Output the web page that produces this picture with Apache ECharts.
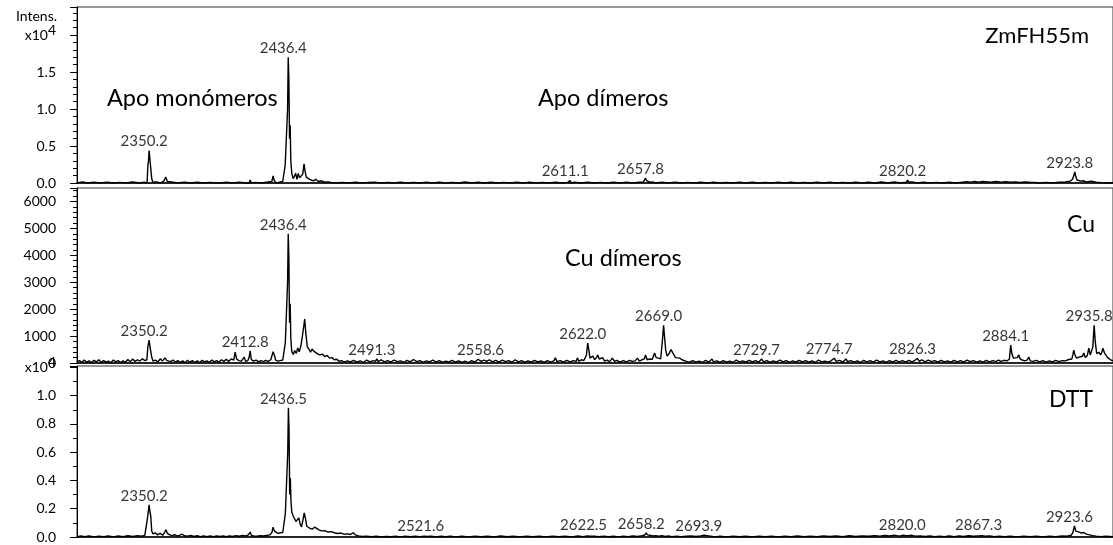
<!DOCTYPE html>
<html>
<head>
<meta charset="utf-8">
<title>MALDI spectra ZmFH55m / Cu / DTT</title>
<script src="https://cdn.jsdelivr.net/npm/echarts@6/dist/echarts.min.js"></script>
<style>
  html, body { margin: 0; padding: 0; background: #fff; }
  #chart { width: 1113px; height: 545px; }
</style>
</head>
<body>
<div id="chart"></div>
<script>
// m/z range shared by the three stacked spectra
const mzRange = [2305.5, 2947.5];

// Spectrum 1: apo protein (ZmFH55m), [m/z, intensity]
const zmSpectrum = [
  [2305.5,0],[2309,150],[2312,0],[2316,100],[2320,0],[2324,120],[2328,0],[2332,90],[2336,0],[2340,130],[2344,0],[2347,100],[2348.6,0],
  [2349.0,300],[2349.4,2300],[2349.8,3000],[2350.2,4400],[2350.6,3400],[2351.2,3200],[2351.8,600],[2352.5,100],[2353.5,0],
  [2355,150],[2357,0],[2359.5,300],[2360.5,800],[2361.5,200],[2362.5,0],[2365,100],[2368,0],[2372,120],[2376,0],[2380,100],[2384,0],
  [2388,90],[2392,0],[2393,250],[2394,0],[2398,100],[2402,0],[2406,120],[2410,0],[2412.3,0],[2412.8,400],[2413.5,0],[2416,80],[2420,0],
  [2423,100],[2426.2,200],[2427,950],[2427.8,300],[2429,0],[2431,100],[2433,200],[2434.2,300],[2434.5,2400],[2435.6,2450],
  [2436.0,10000],[2436.4,17000],[2436.8,14000],[2437.2,6000],[2437.6,7800],[2438.0,3000],[2438.6,1300],[2439.4,600],[2440.2,900],
  [2441,1300],[2441.8,500],[2442.6,1300],[2443.4,700],[2444.4,800],[2445.4,1200],[2446.2,2600],[2446.9,1500],[2447.6,800],
  [2448.6,1000],[2449.6,500],[2450.6,700],[2452,300],[2453.5,500],[2455,200],[2457,300],[2459,100],[2461,150],[2463,80],[2466,0],
  [2470,80],[2474,0],[2478,100],[2482,0],[2486,60],[2490,120],[2494,0],[2498,90],[2502,0],[2506,110],[2510,0],[2514,80],[2518,0],
  [2522,120],[2526,0],[2530,100],[2534,0],[2538,90],[2542,0],[2546,130],[2550,0],[2554,100],[2558,0],[2562,110],[2566,0],[2570,90],
  [2574,0],[2578,120],[2582,0],[2586,100],[2590,0],[2594,80],[2598,0],[2602,110],[2606,0],[2609.5,80],[2610.4,0],[2611.1,320],
  [2611.8,0],[2614,100],[2618,0],[2622,120],[2626,0],[2630,90],[2634,0],[2638,100],[2642,0],[2646,120],[2650,0],[2654,100],
  [2656.5,150],[2657.8,650],[2658.6,300],[2659.6,350],[2660.6,100],[2662,150],[2664,0],[2668,100],[2672,0],[2676,120],[2680,0],
  [2684,90],[2688,0],[2692,110],[2696,0],[2700,100],[2704,0],[2708,80],[2712,0],[2716,120],[2720,0],[2724,100],[2728,0],[2732,90],
  [2736,0],[2740,110],[2744,0],[2748,100],[2752,0],[2756,80],[2760,0],[2764,120],[2768,0],[2772,100],[2776,0],[2780,90],[2784,0],
  [2788,110],[2792,0],[2796,100],[2800,0],[2804,130],[2808,0],[2812,150],[2816,0],[2819.4,100],[2820.2,380],[2821,100],[2823,150],
  [2826,0],[2830,100],[2834,0],[2838,80],[2842,0],[2846,100],[2850,0],[2854,100],[2857,180],[2859,120],[2862,220],[2864,100],
  [2867,200],[2870,150],[2872,100],[2875,200],[2878,120],[2881,180],[2884,100],[2887,150],[2890,80],[2893,150],[2896,100],
  [2899,80],[2902,0],[2906,80],[2910,0],[2914,100],[2918,150],[2921,250],[2922.4,500],[2923.2,1000],[2923.8,1500],[2924.4,900],
  [2925.2,400],[2926.4,300],[2927.6,250],[2929,300],[2931,150],[2934,250],[2937,100],[2940,50],[2944,0],[2947.5,0]
];

// Spectrum 2: Cu-treated sample
const cuSpectrum = [
  [2305.5,40],[2307,90],[2308.5,20],[2310,110],[2311.5,30],[2313,80],[2314.5,10],[2316,100],[2317.5,40],[2319,120],[2320.5,20],
  [2322,90],[2323.5,30],[2325,70],[2326.5,10],[2328,110],[2329.5,40],[2331,90],[2332.5,20],[2334,80],[2335.5,30],[2337,130],
  [2338.5,50],[2340,150],[2341.5,60],[2343,120],[2344.5,70],[2346,160],[2347.5,90],[2348.8,120],
  [2349.4,600],[2350.2,850],[2350.7,620],[2351.2,560],[2351.8,220],[2352.6,70],[2354,110],[2355.5,40],[2357.2,160],[2358.4,70],
  [2360,190],[2361.2,90],[2362.4,150],[2363.6,50],[2365,110],[2366.5,30],[2368,90],[2369.5,20],[2371,80],[2372.5,10],[2374,100],
  [2375.5,30],[2377,90],[2378.5,20],[2380,80],[2381.5,10],[2383,100],[2384.5,40],[2386,80],[2387.5,20],[2389,110],[2390.5,40],
  [2392,90],[2393.5,30],[2395,120],[2396.5,60],[2398,140],[2399.5,60],[2401,150],[2402.6,110],[2403.5,400],[2404.4,150],
  [2405.8,90],[2407.4,70],[2408.4,120],[2409.1,220],[2410,60],[2411.4,90],[2412.2,220],[2412.8,450],[2413.5,130],[2414.8,70],
  [2416.5,110],[2418,40],[2419.5,90],[2421,50],[2422.5,100],[2424,60],[2425.6,120],[2426.4,170],[2427,420],[2427.8,300],
  [2428.6,110],[2430,70],[2431.5,90],[2433,110],[2434.2,150],[2434.6,760],[2435.6,760],
  [2436.0,3000],[2436.4,4800],[2436.8,3900],[2437.2,1500],[2437.6,2200],[2438.0,900],[2438.6,420],[2439.5,320],[2440.4,460],
  [2441.4,360],[2442.3,560],[2443.2,420],[2444.2,620],[2445.0,920],[2445.8,880],[2446.6,1630],[2447.3,1100],[2448.2,600],
  [2449.2,520],[2450.2,400],[2451.2,520],[2452.2,440],[2453.4,380],[2454.6,340],[2456,300],[2457.5,330],[2459,240],[2460.5,280],
  [2462,180],[2463.5,200],[2465,120],[2466.5,140],[2468,60],[2469.5,90],
  [2471,30],[2473,80],[2475,40],[2477,100],[2479,30],[2481,80],[2483,20],[2485,110],[2487,40],[2489,90],[2490.5,60],[2491.3,160],
  [2492.2,50],[2494,120],[2496,40],[2498,90],[2500,30],[2502,110],[2504,50],[2506,80],[2508,20],[2510,100],[2512,40],[2514,130],
  [2516,50],[2518,90],[2520,20],[2522,80],[2524,40],[2526,110],[2528,30],[2530,90],[2532,20],[2534,70],[2536,40],[2538,100],
  [2540,30],[2542,80],[2544,20],[2546,70],[2548,10],[2550,90],[2552,30],[2554,140],[2556,60],[2557.8,110],[2558.6,150],
  [2559.4,60],[2561,120],[2563,40],[2565,100],[2567,30],[2569,110],[2571,50],[2573,90],[2575,30],[2577,120],[2579,40],[2581,90],
  [2583,20],[2585,80],[2587,30],[2589,100],[2591,40],[2593,80],[2595,20],[2597,90],[2599,30],[2601,80],[2601.9,190],[2603,50],
  [2605,90],[2607,30],[2609,100],[2611,40],[2613,90],[2614.8,60],[2615.6,190],[2616.5,60],[2618,120],[2619.6,90],[2620.6,150],
  [2621.2,300],[2622.0,740],[2622.6,520],[2623.4,180],[2624.4,150],[2625.2,260],[2626.2,120],[2627.4,200],[2628.2,300],
  [2629.2,140],[2630.4,120],[2631.2,200],[2632.4,70],[2634,110],[2635.6,50],[2637.3,180],[2638.6,60],[2640,100],[2642,30],
  [2644,90],[2646,40],[2648,100],[2649.6,60],[2651.4,80],[2652.8,180],[2654,70],[2655.6,120],[2657,150],[2657.8,300],
  [2658.8,120],[2660.4,150],[2662,140],[2663.4,370],[2664.4,200],[2665.8,180],[2667.2,150],[2668.3,850],[2669.0,1400],
  [2669.7,900],[2670.3,480],[2671.2,260],[2672.4,350],[2673.6,500],[2674.5,550],[2675.4,300],[2676.4,200],[2677.6,150],
  [2679,180],[2680.4,120],[2681.6,100],[2683,60],[2685,30],[2687,90],[2689,30],[2691,70],[2693,20],[2695,100],[2697,30],
  [2699,150],[2700,40],[2702,80],[2704,20],[2706,90],[2708,30],[2710,70],[2712,20],[2714,110],[2716,40],[2718,80],[2720,30],
  [2722,100],[2724,40],[2726,90],[2728,30],[2729.7,150],[2731,40],[2733,90],[2735,20],[2737,80],[2739,30],[2741,110],[2743,40],
  [2745,90],[2747,20],[2749,80],[2751,30],[2753,100],[2755,40],[2757,90],[2759,30],[2761,80],[2763,20],[2765,110],[2767,40],
  [2769,70],[2771,30],[2773,90],[2774.7,180],[2776,60],[2778,100],[2780,30],[2782,150],[2783,50],[2785,90],[2787,30],[2789,80],
  [2791,20],[2793,100],[2795,40],[2797,90],[2799,30],[2801,110],[2803,40],[2805,80],[2807,20],[2809,90],[2811,30],[2813,100],
  [2815,40],[2817,90],[2819,30],[2821,100],[2823,40],[2825,110],[2826.3,170],[2827.5,60],[2829,120],[2831,40],[2833,110],
  [2835,50],[2837,90],[2839,30],[2841,100],[2843,40],[2845,80],[2847,30],[2849,100],[2851,40],[2853,90],[2855,30],[2857,110],
  [2859,50],[2861,90],[2863,30],[2865,80],[2867,30],[2869,100],[2871,40],[2873,90],[2875,50],[2876.5,110],[2878,60],[2880,100],
  [2882,80],[2883.3,150],[2884.1,670],[2884.8,350],[2885.8,180],[2886.8,120],[2888.2,200],[2889.1,300],[2890,150],[2891.5,100],
  [2893,80],[2894.4,120],[2895.3,220],[2896.2,80],[2898,60],[2900,100],[2902,40],[2904,90],[2906,30],[2908,80],[2910,40],
  [2912,100],[2914,50],[2916,90],[2918,80],[2920,130],[2922,150],[2922.6,300],[2923.2,480],[2924,280],[2925,180],[2926.3,220],
  [2927.4,150],[2928.6,250],[2929.4,370],[2930.3,200],[2931.6,280],[2932.5,550],[2933.4,300],[2934.4,250],[2935.0,600],
  [2935.8,1400],[2936.5,800],[2937.4,350],[2938.7,400],[2939.8,300],[2940.6,400],[2941.2,550],[2942.2,380],[2943,300],
  [2944.2,200],[2945,180],[2946,120],[2947.5,80]
];

// Spectrum 3: DTT-reduced sample
const dttSpectrum = [
  [2305.5,30],[2308,80],[2310,20],[2313,70],[2316,10],[2319,60],[2322,20],[2325,80],[2328,10],[2331,70],[2334,30],[2337,90],
  [2340,40],[2343,100],[2345.5,60],[2347.5,120],[2348.6,110],[2349.0,1200],[2349.6,1300],[2350.2,2270],[2350.7,1770],
  [2351.2,1500],[2351.8,420],[2352.6,220],[2354,300],[2355.4,150],[2357,260],[2358.6,120],[2359.8,320],[2360.6,520],
  [2361.5,260],[2363,150],[2364.5,100],[2366,160],[2367.5,80],[2369,110],[2370.5,200],[2372,90],[2374,60],[2376,120],[2378,40],
  [2380,90],[2382,30],[2384,80],[2386,20],[2388,70],[2390,30],[2392,80],[2393,160],[2394,40],[2396,70],[2398,20],[2400,80],
  [2402,40],[2404,100],[2406,50],[2408,110],[2410,80],[2411.6,140],[2412.3,220],[2412.8,350],[2413.6,110],[2415,80],[2417,60],
  [2419,90],[2421,70],[2423,110],[2425,150],[2426.3,320],[2427,700],[2427.8,420],[2428.6,320],[2430,260],[2431.5,300],
  [2433,320],[2434.2,380],[2434.6,1630],[2435.6,1630],[2436.1,6000],[2436.5,9150],[2436.9,7600],[2437.3,3000],[2437.7,4180],
  [2438.1,2500],[2438.6,1770],[2439.4,1500],[2440.3,1560],[2441.2,1100],[2442.2,1000],[2443.0,1350],[2443.8,900],[2444.6,720],
  [2445.5,1200],[2446.3,1700],[2447.1,1300],[2447.9,760],[2448.8,790],[2450,600],[2451.5,560],[2452.8,700],[2454,560],
  [2455.5,500],[2457,430],[2459,450],[2461,350],[2463,380],[2465,300],[2467,250],[2469,280],[2471,200],[2473,220],[2475,180],
  [2476.8,300],[2478,150],[2480,80],[2482,40],[2485,60],[2488,20],[2491,50],[2494,10],[2497,40],[2500,20],[2503,50],[2506,10],
  [2509,60],[2512,20],[2515,50],[2518,30],[2520.8,60],[2521.6,140],[2522.4,40],[2525,60],[2528,10],[2531,50],[2534,20],
  [2537,60],[2540,10],[2544,50],[2548,10],[2552,60],[2556,20],[2560,50],[2564,10],[2568,70],[2572,20],[2576,50],[2580,10],
  [2584,60],[2588,20],[2592,50],[2596,10],[2600,60],[2604,20],[2608,50],[2612,10],[2616,70],[2619,30],[2621.8,80],[2622.5,180],
  [2623.3,60],[2626,50],[2629,20],[2632,60],[2635,20],[2638,50],[2641,10],[2644,60],[2647,30],[2650,70],[2653,40],[2655.5,90],
  [2657.4,140],[2658.2,300],[2659,150],[2660.5,120],[2662,80],[2664,100],[2666,60],[2668,90],[2670,40],[2672,70],[2674,20],
  [2677,60],[2680,20],[2683,50],[2686,80],[2689,40],[2692,70],[2693.9,130],[2695,40],[2698,60],[2701,10],[2704,50],[2708,10],
  [2712,60],[2716,20],[2720,50],[2724,10],[2728,60],[2732,20],[2736,50],[2740,10],[2744,60],[2748,20],[2752,70],[2756,30],
  [2760,60],[2764,20],[2768,80],[2772,40],[2776,70],[2780,30],[2784,90],[2788,40],[2792,80],[2796,50],[2800,100],[2803,60],
  [2806,110],[2809,70],[2812,130],[2815,60],[2817.5,120],[2819.2,100],[2820.0,220],[2820.8,90],[2823,120],[2825,60],[2828,80],
  [2831,40],[2834,70],[2837,30],[2840,60],[2843,20],[2846,70],[2849,30],[2852,80],[2855,40],[2858,90],[2861,50],[2864,80],
  [2866.5,90],[2867.3,170],[2868.2,60],[2871,70],[2874,20],[2877,60],[2880,20],[2884,50],[2888,10],[2892,60],[2896,20],
  [2900,50],[2904,10],[2908,60],[2912,30],[2916,70],[2919,50],[2921.5,120],[2922.6,300],[2923.6,780],[2924.4,420],[2925.2,300],
  [2926.6,350],[2928,280],[2929.4,320],[2931,200],[2933,150],[2935,100],[2937,60],[2940,30],[2943,50],[2947.5,20]
];

// Annotated peak positions (m/z) for each spectrum
const zmLabels  = [2350.2, 2436.4, 2611.1, 2657.8, 2820.2, 2923.8];
const cuLabels  = [2350.2, 2412.8, 2436.4, 2491.3, 2558.6, 2622.0, 2669.0, 2729.7, 2774.7, 2826.3, 2884.1, 2935.8];
const dttLabels = [2350.2, 2436.5, 2521.6, 2622.5, 2658.2, 2693.9, 2820.0, 2867.3, 2923.6];

// Intensity axis extents and tick steps
const yMax      = [23800, 6500, 12100];
const yInterval = [5000, 1000, 2000];
const yMinor    = [5, 5, 2];

const FONT = 'Lato, "Open Sans", sans-serif';

function peakPoints(spectrum, mzList) {
  return mzList.map(mz => {
    const p = spectrum.find(d => Math.abs(d[0] - mz) < 1e-6);
    return [mz, p ? p[1] : 0];
  });
}

const grids = [
  { left: 77, top: 7,   width: 1037, height: 176 },
  { left: 77, top: 188, width: 1037, height: 175 },
  { left: 77, top: 366, width: 1037, height: 171 }
].map(g => Object.assign(g, { show: true, borderColor: '#333', borderWidth: 1, containLabel: false }));

const xAxes = [0, 1, 2].map(i => ({
  type: 'value', gridIndex: i, min: mzRange[0], max: mzRange[1],
  axisLine: { show: true, onZero: false, lineStyle: { color: '#000', width: 1.5 } },
  axisTick: { show: false }, axisLabel: { show: false }, splitLine: { show: false }
}));

const sciLabel = { u: { fontFamily: FONT, fontSize: 14, color: '#000' },
                   s: { fontFamily: FONT, fontSize: 14, color: '#000', padding: [0, 0, 10, 0] } };

function yFormatter(i) {
  return v => {
    if (i === 0) {
      if (v === 20000) return '{u|x10}{s|4}';
      if (v % 5000 === 0 && v <= 15000) return (v / 10000).toFixed(1);
      return '';
    }
    if (i === 1) {
      if (v % 1000 === 0 && v <= 6000) return String(v);
      return '';
    }
    if (v === 12000) return '{u|x10}{s|4}';
    if (v % 2000 === 0 && v <= 10000) return (v / 10000).toFixed(1);
    return '';
  };
}

const yAxes = [0, 1, 2].map(i => ({
  type: 'value', gridIndex: i, min: 0, max: yMax[i], interval: yInterval[i],
  axisLine: { show: true, lineStyle: { color: '#000', width: 1 } },
  axisTick: { show: true, length: 7, lineStyle: { color: '#000', width: 1 } },
  minorTick: { show: true, splitNumber: yMinor[i], length: 4, lineStyle: { color: '#000', width: 1 } },
  splitLine: { show: false }, minorSplitLine: { show: false },
  axisLabel: { margin: 21, color: '#000', fontFamily: FONT, fontSize: 14,
               formatter: yFormatter(i), rich: sciLabel }
}));

const spectra = [zmSpectrum, cuSpectrum, dttSpectrum];
const labelSets = [zmLabels, cuLabels, dttLabels];

const series = [];
spectra.forEach((spec, i) => {
  series.push({
    type: 'line', xAxisIndex: i, yAxisIndex: i, data: spec,
    showSymbol: false, symbol: 'none', smooth: false,
    lineStyle: { color: '#000', width: 1.4 }, silent: true
  });
  series.push({
    type: 'scatter', xAxisIndex: i, yAxisIndex: i, data: peakPoints(spec, labelSets[i]),
    symbolSize: 1, itemStyle: { color: 'rgba(0,0,0,0)' }, silent: true,
    label: { show: true, position: 'top', distance: 1, offset: [-5, 0],
             color: '#000', fontFamily: FONT, fontSize: 15,
             formatter: p => p.value[0].toFixed(1) }
  });
});

function title(text, x, y, align, size) {
  return { type: 'text', x: x, y: y, silent: true,
           style: { text: text, fill: '#000', font: size + 'px ' + FONT, align: align, verticalAlign: 'middle' } };
}

const option = {
  animation: false,
  backgroundColor: '#fff',
  grid: grids, xAxis: xAxes, yAxis: yAxes, series: series,
  graphic: [
    title('Intens.', 57, 16, 'right', 14),
    title('ZmFH55m', 1089, 36, 'right', 22),
    title('Apo monómeros', 107, 98, 'left', 23.5),
    title('Apo dímeros', 538, 98, 'left', 23.5),
    title('Cu', 1095, 225, 'right', 23),
    title('Cu dímeros', 565, 258, 'left', 23.5),
    title('DTT', 1093, 400, 'right', 23)
  ]
};

const chart = echarts.init(document.getElementById('chart'), null, { renderer: 'canvas' });
chart.setOption(option);
</script>
</body>
</html>
